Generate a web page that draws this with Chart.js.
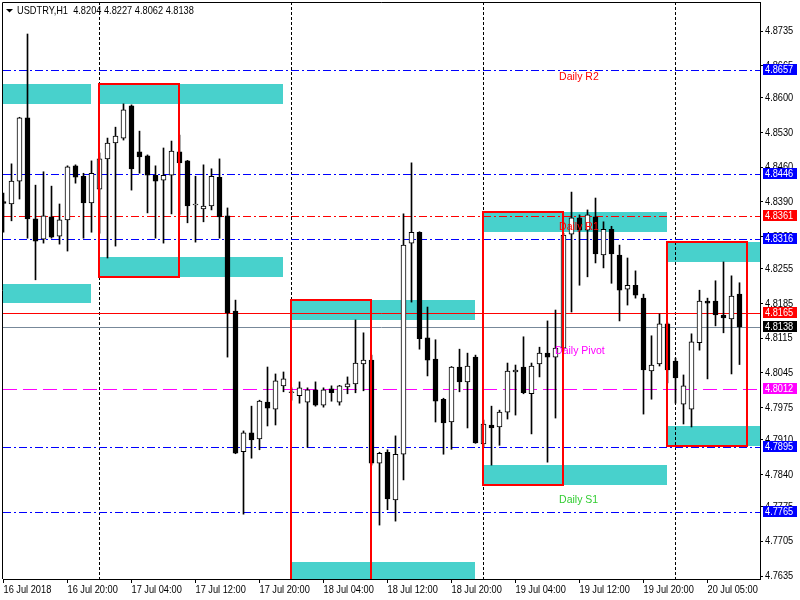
<!DOCTYPE html>
<html>
<head>
<meta charset="utf-8">
<title>USDTRY,H1</title>
<script src="https://cdn.jsdelivr.net/npm/chart.js@4.4.1/dist/chart.umd.min.js"></script>
<style>
  html, body { margin: 0; padding: 0; background: #fff; }
  canvas { display: block; }
</style>
</head>
<body>
<canvas id="chart" width="800" height="600"></canvas>
<script>
// hourly bars, 16 Jul 2018 12:00 -> 20 Jul 2018 09:00
const opens = [
  4.8391, 4.8386, 4.8432, 4.8560, 4.8356, 4.8315, 4.8360, 4.8321, 4.8354, 4.8463,
  4.8442, 4.8388, 4.8416, 4.8477, 4.8509, 4.8519, 4.8584, 4.8491, 4.8483, 4.8444,
  4.8434, 4.8444, 4.8491, 4.8473, 4.8384, 4.8376, 4.8382, 4.8440, 4.8362, 4.8170,
  4.7886, 4.7924, 4.7912, 4.7986, 4.7972, 4.8019, 4.8005, 4.7999, 4.7986, 4.8011,
  4.7980, 4.8013, 4.7986, 4.8017, 4.8023, 4.8063, 4.8071, 4.7863, 4.7885, 4.7789,
  4.7881, 4.8307, 4.8329, 4.8116, 4.8073, 4.7992, 4.7946, 4.8057, 4.8027, 4.8077,
  4.7902, 4.7940, 4.7936, 4.7966, 4.8047, 4.8057, 4.8003, 4.8063, 4.8085, 4.8077,
  4.8095, 4.8325, 4.8358, 4.8333, 4.8360, 4.8283, 4.8335, 4.8283, 4.8214, 4.8222,
  4.8196, 4.8049, 4.8063, 4.8144, 4.8069, 4.7982, 4.7972, 4.8106, 4.8190, 4.8190,
  4.8162, 4.8154, 4.8204
];
const highs = [
  4.8408, 4.8467, 4.8561, 4.8729, 4.8424, 4.8451, 4.8422, 4.8386, 4.8463, 4.8465,
  4.8448, 4.8473, 4.8489, 4.8519, 4.8541, 4.8588, 4.8586, 4.8533, 4.8485, 4.8463,
  4.8499, 4.8513, 4.8525, 4.8474, 4.8442, 4.8465, 4.8457, 4.8477, 4.8378, 4.8192,
  4.7928, 4.7978, 4.7990, 4.8057, 4.8043, 4.8047, 4.8015, 4.8027, 4.8015, 4.8027,
  4.8015, 4.8019, 4.8020, 4.8037, 4.8152, 4.8126, 4.8081, 4.7885, 4.7890, 4.7918,
  4.8366, 4.8469, 4.8330, 4.8178, 4.8112, 4.7994, 4.8058, 4.8093, 4.8085, 4.8081,
  4.7950, 4.7978, 4.7970, 4.8065, 4.8061, 4.8118, 4.8065, 4.8097, 4.8150, 4.8172,
  4.8327, 4.8410, 4.8364, 4.8374, 4.8398, 4.8350, 4.8341, 4.8303, 4.8277, 4.8251,
  4.8204, 4.8120, 4.8164, 4.8146, 4.8075, 4.8041, 4.8124, 4.8212, 4.8196, 4.8231,
  4.8269, 4.8241, 4.8227
];
const lows = [
  4.8329, 4.8352, 4.8396, 4.8317, 4.8233, 4.8307, 4.8317, 4.8305, 4.8291, 4.8428,
  4.8317, 4.8329, 4.8327, 4.8277, 4.8301, 4.8515, 4.8414, 4.8448, 4.8368, 4.8317,
  4.8307, 4.8366, 4.8364, 4.8348, 4.8309, 4.8350, 4.8374, 4.8317, 4.8077, 4.7882,
  4.7760, 4.7873, 4.7890, 4.7938, 4.7940, 4.8007, 4.7990, 4.7984, 4.7895, 4.7978,
  4.7976, 4.7988, 4.7980, 4.8003, 4.8005, 4.8009, 4.7859, 4.7738, 4.7769, 4.7746,
  4.7829, 4.8188, 4.8093, 4.8039, 4.7946, 4.7881, 4.7891, 4.8007, 4.7934, 4.7903,
  4.7895, 4.7859, 4.7899, 4.7952, 4.7960, 4.8003, 4.7922, 4.8037, 4.7865, 4.7954,
  4.8091, 4.8168, 4.8222, 4.8239, 4.8267, 4.8257, 4.8226, 4.8150, 4.8182, 4.8196,
  4.7962, 4.7992, 4.8059, 4.8025, 4.7984, 4.7942, 4.7936, 4.8091, 4.8033, 4.8140,
  4.8126, 4.8043, 4.8062
];
const closes = [
  4.8387, 4.8432, 4.8560, 4.8356, 4.8311, 4.8362, 4.8319, 4.8354, 4.8461, 4.8440,
  4.8388, 4.8448, 4.8477, 4.8509, 4.8523, 4.8576, 4.8457, 4.8481, 4.8444, 4.8432,
  4.8444, 4.8493, 4.8469, 4.8382, 4.8385, 4.8382, 4.8442, 4.8360, 4.8166, 4.7883,
  4.7924, 4.7910, 4.7988, 4.7974, 4.8029, 4.8033, 4.8007, 4.8015, 4.8011, 4.7980,
  4.8011, 4.8005, 4.8019, 4.8023, 4.8065, 4.8071, 4.7863, 4.7883, 4.7791, 4.7881,
  4.8303, 4.8329, 4.8114, 4.8071, 4.7988, 4.7944, 4.8057, 4.8027, 4.8059, 4.7904,
  4.7942, 4.7934, 4.7966, 4.8049, 4.8051, 4.8005, 4.8059, 4.8085, 4.8077, 4.8095,
  4.8323, 4.8358, 4.8333, 4.8364, 4.8285, 4.8335, 4.8285, 4.8212, 4.8222, 4.8202,
  4.8051, 4.8061, 4.8144, 4.8051, 4.8035, 4.8019, 4.8108, 4.8190, 4.8186, 4.8162,
  4.8156, 4.8200, 4.8138
];

// time axis: a label every 8 bars
const timeTickBars = [0, 8, 16, 24, 32, 40, 48, 56, 64, 72, 80, 88];
const timeLabels = ['16 Jul 2018', '16 Jul 20:00', '17 Jul 04:00', '17 Jul 12:00', '17 Jul 20:00',
  '18 Jul 04:00', '18 Jul 12:00', '18 Jul 20:00', '19 Jul 04:00', '19 Jul 12:00',
  '19 Jul 20:00', '20 Jul 05:00'];
const dayStartBars = [12, 36, 60, 84];

const priceTicks = [4.8735, 4.8665, 4.8600, 4.8530, 4.8460, 4.8390, 4.8320, 4.8255, 4.8185,
  4.8115, 4.8045, 4.7975, 4.7910, 4.7840, 4.7775, 4.7705, 4.7635];

// horizontal lines (pivots, bid)
const levelPrices = [4.8657, 4.8446, 4.8361, 4.8316, 4.8165, 4.8138, 4.8012, 4.7895, 4.7765];

// session zones (cyan), in bars and prices
const zoneFrom = [-12, 12, -12, 12, 36, 36, 60, 60, 83, 83];
const zoneTo = [11, 35, 11, 35, 59, 59, 83, 83, 96, 96];
const zoneHigh = [4.8628, 4.8628, 4.8225, 4.8279, 4.8192, 4.7664, 4.8370, 4.7859, 4.8309, 4.7938];
const zoneLow = [4.8588, 4.8588, 4.8186, 4.8239, 4.8152, 4.7600, 4.8329, 4.7819, 4.8269, 4.7898];

// red range boxes
const boxFrom = [12, 36, 60, 83];
const boxTo = [22, 46, 70, 93];
const boxHigh = [4.8628, 4.8192, 4.8370, 4.8309];
const boxLow = [4.8239, 4.7600, 4.7819, 4.7898];

// text objects
const noteTexts = ['Daily R2', 'Daily R1', 'Daily Pivot', 'Daily S1'];
const noteBars = [69.45, 69.45, 68.95, 69.45];
const notePrices = [4.8642, 4.8339, 4.8090, 4.7789];

const header = 'USDTRY,H1  4.8204 4.8227 4.8062 4.8138';

// styles
const axisFont = { family: '"Liberation Sans", Arial, sans-serif', size: 11 };
const axisFontCss = '11px "Liberation Sans", Arial, sans-serif';
const NARROW = 0.84; // terminal font is narrower than Liberation Sans
const noteFontCss = '10.5px "Liberation Sans", Arial, sans-serif';
const DASHDOT = [8, 3, 2, 3];
const levelStyle = [
  { color: '#0000ff', dash: DASHDOT, box: '#0000ff' },
  { color: '#0000ff', dash: DASHDOT, box: '#0000ff' },
  { color: '#ff0000', dash: DASHDOT, box: '#ff0000' },
  { color: '#0000ff', dash: DASHDOT, box: '#0000ff' },
  { color: '#ff0000', dash: [], box: '#ff0000' },
  { color: '#778899', dash: [], box: '#000000' },
  { color: '#ff00ff', dash: [14, 6], box: '#ff00ff' },
  { color: '#0000ff', dash: DASHDOT, box: '#0000ff' },
  { color: '#0000ff', dash: DASHDOT, box: '#0000ff' }
];
const noteColors = ['#ff0000', '#ff0000', '#ff00ff', '#32cd32'];
const ZONE = '#48d1cc';

const bullish = closes.map((c, i) => c >= opens[i]);

function narrowText(ctx, text, x, y) {
  ctx.save();
  ctx.translate(x, y);
  ctx.scale(NARROW, 1);
  ctx.fillText(text, 0, 0);
  ctx.restore();
}

const decor = {
  id: 'decor',
  beforeDatasetsDraw(chart) {
    const { ctx, chartArea: a, scales: { x, y } } = chart;
    const bx = k => Math.round(x.getPixelForValue(k) - 0.5);
    const by = v => Math.round(y.getPixelForValue(v));
    ctx.save();
    ctx.beginPath();
    ctx.rect(a.left, a.top, a.right - a.left, a.bottom - a.top);
    ctx.clip();

    ctx.fillStyle = ZONE;
    zoneFrom.forEach((f, i) => {
      const x0 = bx(f), y0 = by(zoneHigh[i]);
      ctx.fillRect(x0, y0, bx(zoneTo[i]) - x0, by(zoneLow[i]) - y0);
    });

    // day separators
    ctx.strokeStyle = '#000';
    ctx.lineWidth = 1;
    ctx.setLineDash([3, 2]);
    dayStartBars.forEach(k => {
      const px = bx(k) + 0.5;
      ctx.beginPath();
      ctx.moveTo(px, a.top);
      ctx.lineTo(px, a.bottom);
      ctx.stroke();
    });

    levelPrices.forEach((v, i) => {
      const py = by(v) + 0.5;
      ctx.strokeStyle = levelStyle[i].color;
      ctx.setLineDash(levelStyle[i].dash);
      ctx.beginPath();
      ctx.moveTo(a.left, py);
      ctx.lineTo(a.right, py);
      ctx.stroke();
    });
    ctx.restore();
  },
  afterDatasetsDraw(chart) {
    const { ctx, chartArea: a, scales: { x, y } } = chart;
    const bx = k => Math.round(x.getPixelForValue(k) - 0.5);
    const by = v => Math.round(y.getPixelForValue(v));
    ctx.save();
    ctx.beginPath();
    ctx.rect(a.left, a.top, a.right - a.left, a.bottom - a.top);
    ctx.clip();

    ctx.font = noteFontCss;
    ctx.textAlign = 'left';
    ctx.textBaseline = 'middle';
    noteTexts.forEach((t, i) => {
      ctx.fillStyle = noteColors[i];
      ctx.fillText(t, x.getPixelForValue(noteBars[i]), y.getPixelForValue(notePrices[i]));
    });

    ctx.strokeStyle = '#ff0000';
    ctx.lineWidth = 2;
    boxFrom.forEach((f, i) => {
      const x0 = bx(f), y0 = by(boxHigh[i]);
      ctx.strokeRect(x0, y0, bx(boxTo[i]) - x0, by(boxLow[i]) - y0);
    });
    ctx.restore();
  },
  afterDraw(chart) {
    const { ctx, chartArea: a, scales: { x, y } } = chart;
    ctx.save();
    // frame top / left
    ctx.strokeStyle = '#000';
    ctx.lineWidth = 1;
    ctx.beginPath();
    ctx.moveTo(a.left - 0.5, a.bottom);
    ctx.lineTo(a.left - 0.5, a.top + 0.5);
    ctx.lineTo(a.right + 1, a.top + 0.5);
    ctx.stroke();

    // axis labels, narrowed
    ctx.font = axisFontCss;
    ctx.textAlign = 'left';
    ctx.textBaseline = 'middle';
    ctx.fillStyle = '#000';
    x.ticks.forEach((t, i) => {
      narrowText(ctx, timeLabels[timeTickBars.indexOf(t.value)] ?? '', x.getPixelForTick(i), a.bottom + 10.5);
    });
    y.ticks.forEach((t, i) => {
      narrowText(ctx, t.value.toFixed(4), a.right + 5, y.getPixelForTick(i));
    });

    // price tags on the right axis
    levelPrices.forEach((v, i) => {
      const py = Math.round(y.getPixelForValue(v));
      ctx.fillStyle = levelStyle[i].box;
      ctx.fillRect(a.right + 3, py - 6, 34, 11);
      ctx.fillStyle = '#fff';
      narrowText(ctx, v.toFixed(4), a.right + 5, py);
    });

    // symbol header
    ctx.fillStyle = '#000';
    ctx.beginPath();
    ctx.moveTo(6, 9);
    ctx.lineTo(13, 9);
    ctx.lineTo(9.5, 12.5);
    ctx.closePath();
    ctx.fill();
    narrowText(ctx, header, 17, 11);
    ctx.restore();
  }
};

new Chart(document.getElementById('chart'), {
  type: 'bar',
  data: {
    datasets: [
      {
        label: 'body',
        data: opens.map((o, i) => ({ x: i, y: [o, closes[i]] })),
        grouped: false,
        barThickness: 5,
        minBarLength: 1,
        backgroundColor: bullish.map(b => b ? '#ffffff' : '#000000'),
        borderColor: '#000',
        borderWidth: 1,
        borderSkipped: false,
        order: 0
      },
      {
        label: 'wick',
        data: lows.map((l, i) => ({ x: i, y: [l, highs[i]] })),
        grouped: false,
        barThickness: 1,
        backgroundColor: '#000',
        borderWidth: 0,
        order: 1
      }
    ]
  },
  options: {
    responsive: false,
    animation: false,
    devicePixelRatio: 1,
    layout: { padding: { left: 3, top: 2, right: 0, bottom: 0 } },
    plugins: { legend: { display: false }, tooltip: { enabled: false } },
    scales: {
      x: {
        type: 'linear',
        min: -0.0625,
        max: 94.5625,
        offset: false,
        grid: { drawOnChartArea: false, drawTicks: true, tickLength: 4, color: '#000', offset: false },
        border: { display: true, color: '#000' },
        ticks: {
          align: 'start', maxRotation: 0, autoSkip: false, padding: 0,
          color: 'rgba(0,0,0,0)', font: axisFont,
          callback: v => timeLabels[timeTickBars.indexOf(v)] ?? ''
        },
        afterBuildTicks: s => { s.ticks = timeTickBars.map(v => ({ value: v })); },
        afterFit: s => { s.height = 21; s.paddingLeft = 0; s.paddingRight = 0; }
      },
      y: {
        type: 'linear',
        position: 'right',
        min: 4.76292,
        max: 4.87936,
        grid: { drawOnChartArea: false, drawTicks: true, tickLength: 3, color: '#000' },
        border: { display: true, color: '#000' },
        ticks: { padding: 2, color: 'rgba(0,0,0,0)', font: axisFont, callback: v => v.toFixed(4) },
        afterBuildTicks: s => { s.ticks = priceTicks.map(v => ({ value: v })); },
        afterFit: s => { s.width = 40; s.paddingTop = 0; s.paddingBottom = 0; }
      }
    }
  },
  plugins: [decor]
});
</script>
</body>
</html>
